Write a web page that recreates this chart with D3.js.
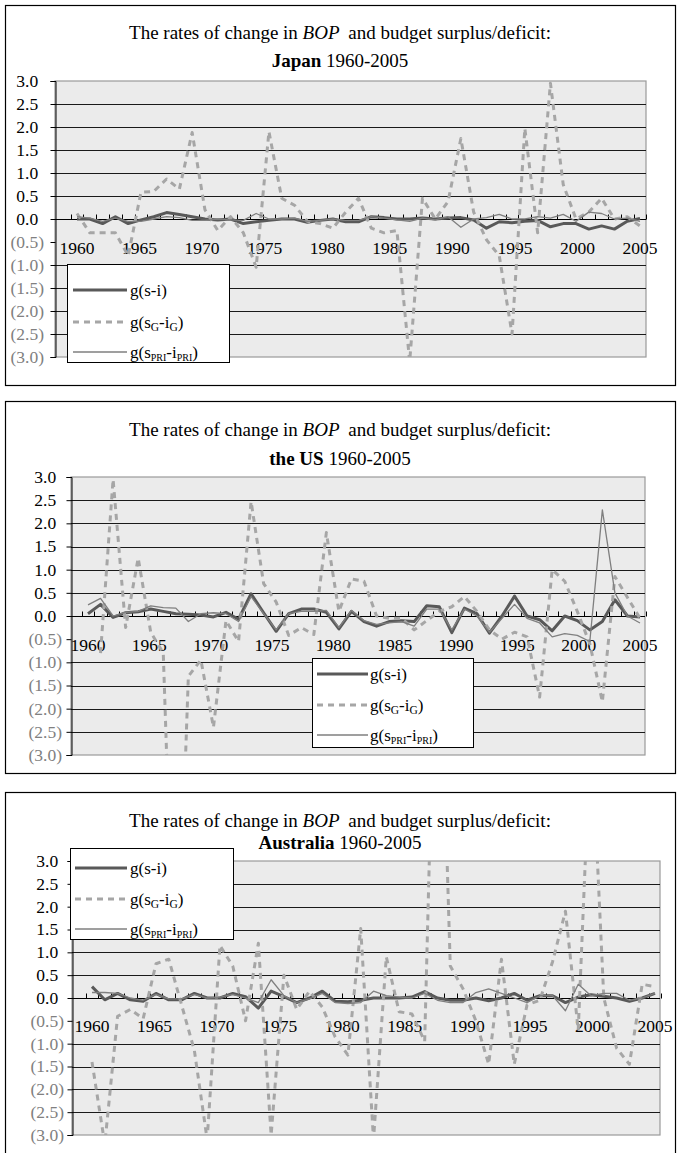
<!DOCTYPE html>
<html><head><meta charset="utf-8">
<script src="https://cdn.jsdelivr.net/npm/d3@7"></script>
<style>body{margin:0;background:#fff}svg{display:block}text{font-family:"Liberation Serif","Times New Roman",serif}</style>
</head><body><svg id="c" width="678" height="1153"></svg>
<script>
// ---------------- data ----------------
const years = d3.range(1961, 2006);           // 45 observations
const labelYears = [1960,1965,1970,1975,1980,1985,1990,1995,2000,2005];
const yTicks = [3,2.5,2,1.5,1,0.5,0,-0.5,-1,-1.5,-2,-2.5,-3];
const seriesNames = ["g(s-i)","g(sG-iG)","g(sPRI-iPRI)"];
const countries = ["Japan","the US","Australia"];

const japanSI  = [0.0,0.0,-0.1,0.05,-0.1,-0.02,0.05,0.14,0.1,0.05, 0.0,-0.02,0.0,-0.1,-0.06,-0.03,0.0,0.0,-0.07,-0.03, 0.0,-0.06,-0.06,0.05,0.03,0.0,0.0,0.02,0.0,0.02, 0.03,-0.02,-0.2,-0.06,-0.08,-0.05,-0.03,-0.17,-0.1,-0.1, -0.22,-0.15,-0.22,-0.05,0.01];
const japanG   = [0.12,-0.3,-0.3,-0.3,-0.8,0.58,0.6,0.87,0.65,1.88, 0.2,-0.25,0.05,-0.3,-1.05,1.9,0.45,0.3,-0.05,-0.1, -0.2,0.15,0.45,-0.2,-0.3,-0.25,-3.1,0.45,0.0,0.38, 1.75,0.15,-0.45,-0.8,-2.5,1.97,-0.3,2.95,0.75,0.0, 0.15,0.45,0.0,0.05,-0.15];
const japanPRI = [0.05,0.02,-0.05,0.02,-0.05,-0.05,0.0,0.05,0.03,-0.03, -0.03,0.0,-0.02,-0.03,0.12,0.0,0.0,0.02,-0.05,-0.03, 0.0,-0.03,-0.03,0.05,0.02,-0.02,-0.05,0.02,-0.02,0.05, -0.18,0.0,0.03,0.1,0.0,0.0,0.05,0.02,0.1,-0.05, 0.15,0.12,0.0,0.02,-0.05];

const usSI  = [0.05,0.25,-0.03,0.07,0.09,0.15,0.1,0.05,0.04,0.02, -0.02,0.08,-0.07,0.48,0.07,-0.33,0.05,0.15,0.15,0.08, -0.28,0.1,-0.12,-0.22,-0.12,-0.1,-0.12,0.22,0.2,-0.36, 0.17,0.05,-0.37,0.0,0.43,0.0,-0.08,-0.32,0.0,-0.1, -0.3,-0.12,0.35,0.0,-0.02];
const usG   = [null,-0.8,2.95,-0.25,1.25,-0.35,-0.8,-9,-1.3,-0.95, -2.4,-0.1,-0.55,2.47,0.7,0.3,-0.42,-0.25,-0.4,1.8, 0.1,0.8,0.75,0.0,-0.05,-0.05,-0.3,-0.1,0.1,0.2, 0.42,0.1,-0.3,-0.5,-0.35,-0.45,-1.75,1.0,0.75,0.1, -0.6,-1.85,0.85,0.4,-0.05];
const usPRI = [0.24,0.38,0.0,0.08,0.1,0.22,0.18,0.17,-0.12,0.05, 0.07,0.05,-0.12,0.42,0.05,-0.3,0.05,0.1,0.1,0.12, -0.25,0.12,-0.1,-0.18,-0.15,-0.12,-0.22,0.15,0.15,-0.3, 0.15,0.0,-0.35,-0.05,0.25,-0.05,-0.15,-0.45,-0.38,-0.42, -0.55,2.29,0.5,0.0,-0.15];

const ausSI  = [0.25,-0.04,0.1,-0.04,-0.07,0.1,-0.04,-0.04,0.1,0.0, 0.0,0.1,0.03,-0.22,0.15,0.03,-0.1,0.0,0.15,-0.07, -0.08,-0.05,0.0,0.0,0.0,0.02,0.14,0.0,-0.05,-0.05, 0.0,-0.06,0.0,0.1,-0.05,0.05,0.05,-0.1,0.02,0.07, 0.04,0.0,-0.07,0.0,0.1];
const ausG   = [-1.4,-3.2,-0.4,-0.25,-0.45,0.75,0.85,-0.15,-1.15,-3.1, 1.15,0.7,-0.5,1.2,-3.0,0.5,-0.25,0.15,-0.2,-0.85, -1.25,1.52,-3.1,0.9,-0.3,-0.35,-0.95,10,0.7,0.2, -0.5,-1.45,0.85,-1.45,-0.15,-0.05,0.8,1.9,-0.7,6, 0.0,-1.1,-1.45,0.3,0.25];
const ausPRI = [0.12,0.12,0.1,0.0,-0.05,0.08,-0.02,-0.02,0.08,0.0, 0.02,0.08,0.0,-0.1,0.4,0.05,-0.1,-0.02,0.1,-0.1, -0.12,-0.1,0.15,0.05,0.02,0.0,0.1,-0.05,-0.1,-0.1, 0.12,0.2,0.1,0.0,-0.1,0.05,0.05,-0.28,0.3,0.05, 0.1,0.1,-0.05,0.0,0.1];

const seriesByCountry = [[japanSI,japanG,japanPRI],[usSI,usG,usPRI],[ausSI,ausG,ausPRI]];

// ---------------- layout / style ----------------
const styles = [
  {stroke:"#595959", width:3, dash:null},
  {stroke:"#a6a6a6", width:3, dash:"6,5"},
  {stroke:"#7f7f7f", width:1.3, dash:null}
];
const panels = [
  {frame:[5,5,670,380], t1:39, t2:67, plot:{l:55,r:646,t:81,b:357}, xf:77, xl:640, labR:44,
   legend:{x:67,y:264,w:162,h:98,rows:[290,322,352],s0:73,s1:127,tx:130}},
  {frame:[5,401,670,372], t1:436, t2:465, plot:{l:71,r:645,t:477,b:755}, xf:88, xl:640, labR:62,
   legend:{x:312,y:658,w:161,h:89,rows:[674,705,735],s0:317,s1:368,tx:370}},
  {frame:[5,792,670,370], t1:827, t2:849, plot:{l:72,r:660,t:861,b:1135}, xf:92, xl:655, labR:64,
   legend:{x:70,y:848,w:163,h:91,rows:[868,899,929],s0:75,s1:127,tx:130}}
];

const svg = d3.select("#c");
const fmt = v => v >= 0 ? v.toFixed(1) : "(" + (-v).toFixed(1) + ")";
const AX_FS = 17.5;

function legendLabel(t, k){
  if(k===0){ t.text(seriesNames[0]); return; }
  const sub = k===1 ? "G" : "PRI";
  const fs = k===1 ? 11.5 : 10;
  t.append("tspan").text("g(s");
  t.append("tspan").attr("font-size",fs).attr("dy",3).text(sub);
  t.append("tspan").attr("dy",-3).text("-i");
  t.append("tspan").attr("font-size",fs).attr("dy",3).text(sub);
  t.append("tspan").attr("dy",-3).text(")");
}

panels.forEach((p,k)=>{
  const g = svg.append("g");
  const P = p.plot;
  // frame
  g.append("rect").attr("x",p.frame[0]+0.5).attr("y",p.frame[1]+0.5)
    .attr("width",p.frame[2]).attr("height",p.frame[3])
    .attr("fill","none").attr("stroke","#000").attr("stroke-width",1.2);

  const y = d3.scaleLinear().domain([-3,3]).range([P.b,P.t]);
  const x = d3.scaleLinear().domain([years[0],years[years.length-1]]).range([p.xf,p.xl]);
  const xLab = d3.scaleLinear().domain([1960,2005]).range([p.xf,p.xl]);

  // plot background
  g.append("rect").attr("x",P.l).attr("y",P.t).attr("width",P.r-P.l).attr("height",P.b-P.t)
    .attr("fill","#ebebeb").attr("stroke","#9a9a9a").attr("stroke-width",1.2);
  // gridlines
  g.selectAll("line.grid").data(yTicks.filter(v=>v!==3 && v!==-3 && v!==0 && v!==-0.5))
    .join("line").attr("class","grid")
    .attr("x1",P.l).attr("x2",P.r)
    .attr("y1",d=>Math.round(y(d))+0.5).attr("y2",d=>Math.round(y(d))+0.5)
    .attr("stroke","#1a1a1a").attr("stroke-width",1);

  // y axis
  const ya = g.append("g").attr("transform",`translate(${P.l+0.5},0)`)
    .call(d3.axisLeft(y).tickValues(yTicks).tickSize(5).tickPadding(P.l-p.labR-5).tickFormat(""));
  ya.select(".domain").attr("stroke","#000");
  ya.selectAll(".tick line").attr("stroke","#000");
  // y labels (Excel style: positives padded by the width of ")")
  const yl = g.selectAll("text.yl").data(yTicks).join("text").attr("class","yl")
    .attr("x",p.labR).attr("y",d=>y(d)).attr("dy","0.34em").attr("text-anchor","end")
    .attr("font-size",AX_FS).attr("fill",d=>d<0?"#808080":"#000");
  yl.each(function(d){
    const t = d3.select(this);
    t.append("tspan").text(fmt(d));
    if(d>=0) t.append("tspan").attr("fill-opacity",0).text(")");
  });

  // zero axis with category ticks
  const y0 = Math.round(y(0))+0.5;
  g.append("line").attr("x1",P.l).attr("x2",P.r).attr("y1",y0).attr("y2",y0)
    .attr("stroke","#000").attr("stroke-width",1.2);
  const bounds = d3.range(years[0]-0.5, years[years.length-1]+1, 1);
  g.selectAll("line.ct").data(bounds).join("line").attr("class","ct")
    .attr("x1",d=>Math.round(x(d))+0.5).attr("x2",d=>Math.round(x(d))+0.5)
    .attr("y1",y0).attr("y2",y0-5).attr("stroke","#000");

  // x labels
  g.selectAll("text.xl").data(labelYears).join("text").attr("class","xl")
    .attr("x",d=>xLab(d)).attr("y",y(-0.5)+11.5).attr("text-anchor","middle")
    .attr("font-size",AX_FS).attr("fill","#000").text(d=>d);

  // series
  const clipId = "clip"+k;
  svg.append("clipPath").attr("id",clipId).append("rect")
    .attr("x",P.l).attr("y",P.t).attr("width",P.r-P.l).attr("height",P.b-P.t);
  const line = d3.line().defined(d=>d!=null).x((d,i)=>x(years[i])).y(d=>y(d));
  const sg = g.append("g").attr("clip-path",`url(#${clipId})`);
  seriesByCountry[k].forEach((vals,j)=>{
    const s = styles[j];
    sg.append("path").datum(vals).attr("d",line).attr("fill","none")
      .attr("stroke",s.stroke).attr("stroke-width",s.width)
      .attr("stroke-dasharray",s.dash).attr("stroke-linejoin","round");
  });

  // legend
  const L = p.legend;
  const lg = g.append("g");
  lg.append("rect").attr("x",L.x+0.5).attr("y",L.y+0.5).attr("width",L.w).attr("height",L.h)
    .attr("fill","#fff").attr("stroke","#000").attr("stroke-width",1);
  seriesNames.forEach((nm,j)=>{
    const s = styles[j];
    lg.append("line").attr("x1",L.s0).attr("x2",L.s1).attr("y1",L.rows[j]).attr("y2",L.rows[j])
      .attr("stroke",s.stroke).attr("stroke-width",s.width).attr("stroke-dasharray",s.dash);
    const t = lg.append("text").attr("x",L.tx).attr("y",L.rows[j]+5.5).attr("font-size",17).attr("fill","#000");
    legendLabel(t,j);
  });

  // titles (on top)
  const t1 = g.append("text").attr("x",340).attr("y",p.t1).attr("text-anchor","middle")
    .attr("font-size",19).attr("fill","#000");
  t1.append("tspan").text("The rates of change in ");
  t1.append("tspan").attr("font-style","italic").text("BOP");
  t1.append("tspan").attr("dx",4).text(" and budget surplus/deficit:");
  const t2 = g.append("text").attr("x",340).attr("y",p.t2).attr("text-anchor","middle")
    .attr("font-size",19).attr("fill","#000");
  t2.append("tspan").attr("font-weight","bold").text(countries[k]);
  t2.append("tspan").text(" 1960-2005");
});
</script>
</body></html>
